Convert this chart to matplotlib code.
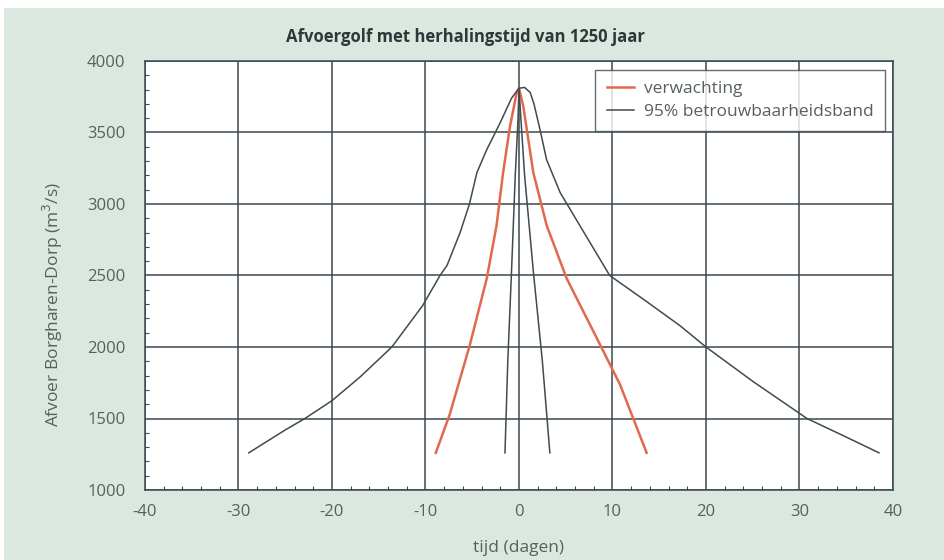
import matplotlib
matplotlib.use("Agg")
import matplotlib.pyplot as plt
from matplotlib.patches import Rectangle
from matplotlib.ticker import MultipleLocator

plt.rcParams['font.family'] = ['Open Sans', 'DejaVu Sans']

# Expected discharge wave (verwachting)
exp_t = [-8.9, -7.4, -5.25, -3.45, -2.4, -1.7, -0.96, -0.25, 0.0,
         0.46, 1.53, 2.96, 5.1, 7.95, 10.8, 13.65]
exp_q = [1260, 1530, 2016, 2479, 2850, 3220, 3544, 3777, 3810,
         3683, 3220, 2850, 2479, 2110, 1738, 1260]

# 95% confidence band, outer (wide) limit
outer_t = [-28.9, -25.0, -22.9, -20.0, -17.0, -13.6, -10.3, -8.45, -7.7, -6.3,
           -5.3, -4.5, -3.45, -2.0, -0.8, 0.0, 0.6, 1.2, 1.6, 2.25, 2.95, 4.4,
           6.5, 9.7, 13.6, 17.2, 20.0, 25.0, 30.8, 35.0, 38.5]
outer_q = [1260, 1420, 1500, 1625, 1790, 2000, 2290, 2500, 2570, 2800,
           3000, 3220, 3380, 3570, 3740, 3810, 3815, 3780, 3700, 3520, 3310, 3080,
           2850, 2500, 2320, 2150, 2000, 1760, 1500, 1370, 1260]

# 95% confidence band, inner (narrow) limit
inner_t = [-1.5, -1.2, -0.8, -0.4, -0.1, 0.0, 0.2, 0.6, 1.53, 2.5, 3.3]
inner_q = [1260, 1900, 2530, 3200, 3600, 3810, 3600, 3200, 2530, 1900, 1260]

x_ticks = [-40, -30, -20, -10, 0, 10, 20, 30, 40]
y_ticks = [1000, 1500, 2000, 2500, 3000, 3500, 4000]

title = "Afvoergolf met herhalingstijd van 1250 jaar"
xlabel = "tijd (dagen)"
ylabel = "Afvoer Borgharen-Dorp (m$^3$/s)"
labels = ["verwachting", "95% betrouwbaarheidsband"]

bg = "#dbe8df"
grid_c = "#3a4850"
band_c = "#3f4b4d"
red_c = "#e2694f"
text_c = "#56605f"

fig = plt.figure(figsize=(9.45, 5.6), dpi=100)
fig.patch.set_facecolor("white")
fig.patches.append(Rectangle((4 / 945, 0), 1, 1 - 8 / 560, transform=fig.transFigure,
                             facecolor=bg, edgecolor="none", zorder=-10))

ax = fig.add_axes([145 / 945, 1 - 490 / 560, (893 - 145) / 945, (490 - 61) / 560])
ax.set_facecolor("white")

ax.plot(exp_t, exp_q, color=red_c, lw=1.8, label=labels[0], zorder=3)
ax.plot(outer_t, outer_q, color=band_c, lw=1.1, label=labels[1], zorder=3)
ax.plot(inner_t, inner_q, color=band_c, lw=1.1, zorder=3)

ax.set_xlim(-40, 40)
ax.set_ylim(1000, 4000)
ax.set_xticks(x_ticks)
ax.set_yticks(y_ticks)
ax.set_xticklabels([str(v) for v in x_ticks])
ax.xaxis.set_minor_locator(MultipleLocator(2))
ax.yaxis.set_minor_locator(MultipleLocator(100))
ax.tick_params(which="major", length=0, labelsize=12, labelcolor=text_c)
ax.tick_params(axis="y", which="major", pad=14)
ax.tick_params(axis="x", which="major", pad=10)
ax.tick_params(which="minor", direction="in", length=3, width=0.8, color=grid_c)
ax.grid(True, which="major", color=grid_c, lw=1.1)
ax.set_axisbelow(True)
for s in ax.spines.values():
    s.set_color(grid_c)
    s.set_linewidth(1.1)

fig.text(465 / 945, 1 - 37 / 560, title, fontsize=12, fontweight="bold",
         color="#2f3838", ha="center", va="center")
ax.set_xlabel(xlabel, fontsize=12.5, color=text_c)
ax.xaxis.set_label_coords(0.5, (490 - 548) / 429, transform=ax.transAxes)
ax.set_ylabel(ylabel, fontsize=12.5, color=text_c, va="center")
ax.yaxis.set_label_coords((53 - 145) / 748, (490 - 305) / 429, transform=ax.transAxes)
ax.xaxis.label.set_va("center")

leg = ax.legend(loc="upper right", bbox_to_anchor=((885 - 145) / 748, (490 - 70) / 429),
                fontsize=12.5, handlelength=1.6, frameon=True, fancybox=False,
                borderpad=0.65, labelspacing=0.35, handletextpad=0.55, borderaxespad=0)
leg.get_frame().set_edgecolor(grid_c)
leg.get_frame().set_linewidth(1.0)
for t in leg.get_texts():
    t.set_color(text_c)

fig.savefig("out.png", dpi=100, facecolor=fig.get_facecolor())
